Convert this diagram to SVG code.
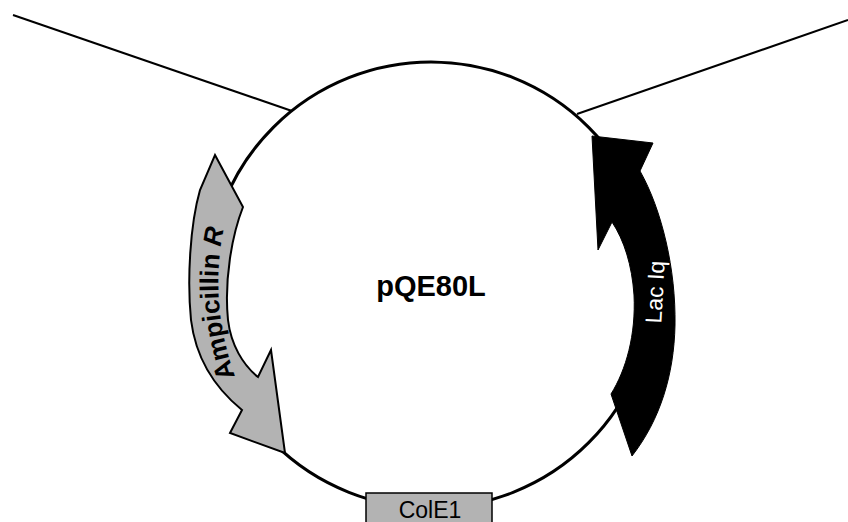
<svg xmlns="http://www.w3.org/2000/svg" width="848" height="522" viewBox="0 0 848 522">
<style>
.ln{fill:none;stroke:#000;stroke-width:2}
.ring{fill:none;stroke:#000;stroke-width:3}
.amp{fill:#b3b3b3;stroke:#000;stroke-width:2;stroke-linejoin:miter}
.lac{fill:#000;stroke:#000;stroke-width:1}
.box{fill:#b3b3b3;stroke:#000;stroke-width:1.5}
.t{font-family:"Liberation Sans",Arial,sans-serif}
</style>
<defs>
<path id="ampText" d="M243,396 Q202,302 229,208"/>
</defs>
<rect width="848" height="522" fill="#fff"/>
<g id="connectors">
<line class="ln" x1="13" y1="15" x2="292" y2="111"/>
<line class="ln" x1="577" y1="114" x2="848" y2="20"/>
</g>
<g id="plasmid">
<circle class="ring" cx="431" cy="285" r="223"/>
<text class="t" x="431" y="296" font-size="29" font-weight="bold" text-anchor="middle">pQE80L</text>
</g>
<g id="ampR">
<path class="amp" d="M215,155 L243,207 C232,235 224,280 228,320 C231,345 243,365 258,377 L271,350 L285,453 L230,433 L242,410 C215,388 196,360 191,320 C187,280 190,225 200,190 Z"/>
<text class="t" font-size="26" font-weight="bold"><textPath href="#ampText" startOffset="50%" text-anchor="middle">Ampicillin <tspan font-style="italic">R</tspan></textPath></text>
</g>
<g id="lacIq">
<path class="lac" d="M592,136 L653,143 L640,171 C662,210 676,270 675,325 C674,375 660,420 632,456 L611,394 C626,370 636,335 634,295 C632,265 624,240 612,222 L598,250 Z"/>
<text class="t" transform="translate(655,292) rotate(-87)" font-size="23" fill="#fff" text-anchor="middle" dominant-baseline="central">Lac Iq</text>
</g>
<g id="colE1">
<rect class="box" x="366" y="493" width="126" height="40"/>
<text class="t" x="430" y="518" font-size="23" text-anchor="middle">ColE1</text>
</g>
</svg>
